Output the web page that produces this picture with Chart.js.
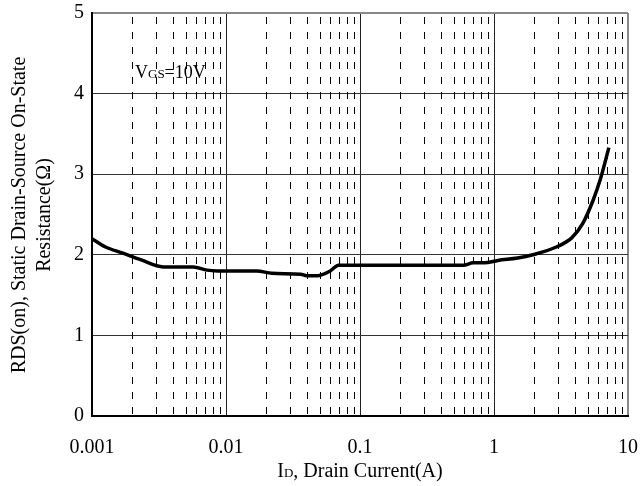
<!DOCTYPE html>
<html>
<head>
<meta charset="utf-8">
<script src="https://cdn.jsdelivr.net/npm/chart.js@4.4.0/dist/chart.umd.min.js"></script>
<style>
  body { margin: 0; background: #fff; }
  canvas { display: block; }
</style>
</head>
<body>
<canvas id="myChart" width="640" height="486"></canvas>
<script>
// drain current (A) and resistance (ohm)
let currentA = [0.001, 0.00125, 0.0017, 0.0023, 0.0034, 0.0057, 0.0072, 0.0086, 0.017, 0.022,
    0.036, 0.040, 0.048, 0.06, 0.069, 0.14, 0.3, 0.59, 0.70, 0.85,
    1.07, 1.5, 1.95, 2.95, 3.8, 4.6, 5.5, 6.2, 7.2];
let rdsOn = [2.20, 2.10, 2.02, 1.94, 1.85, 1.85, 1.81, 1.80, 1.80, 1.77,
    1.76, 1.74, 1.74, 1.80, 1.87, 1.87, 1.87, 1.87, 1.90, 1.90,
    1.93, 1.96, 2.00, 2.10, 2.21, 2.39, 2.68, 2.93, 3.33];

let xMajorTicks = [0.001, 0.01, 0.1, 1, 10];
let xTickLabels = ['0.001', '0.01', '0.1', '1', '10'];
let xMinorTicks = [];
for (let d = 0.001; d < 5; d *= 10) {
    for (let m = 2; m <= 9; m++) xMinorTicks.push(+(m * d).toPrecision(3));
}
let yTicks = [0, 1, 2, 3, 4, 5];

const serif = '"Liberation Serif", "Times New Roman", serif';

// dashed minor lines and text pieces with subscripts
const extras = {
    id: 'extras',
    beforeDatasetsDraw(chart) {
        const c = chart.ctx, a = chart.chartArea, xs = chart.scales.x;
        c.save();
        c.strokeStyle = '#000';
        c.lineWidth = 1;
        c.setLineDash([7, 8]);
        xMinorTicks.forEach(v => {
            let px = Math.round(xs.getPixelForValue(v)) + 0.5;
            c.beginPath();
            c.moveTo(px, a.top + 4);
            c.lineTo(px, a.bottom);
            c.stroke();
        });
        c.restore();
    },
    afterDraw(chart) {
        const c = chart.ctx, a = chart.chartArea;
        c.save();
        c.fillStyle = '#000';
        c.textBaseline = 'alphabetic';

        // V_GS=10V
        let x = 135, y = 78;
        c.font = '18px ' + serif;
        c.fillText('V', x, y); x += c.measureText('V').width;
        c.font = '13px ' + serif;
        c.fillText('GS', x, y); x += c.measureText('GS').width;
        c.font = '18px ' + serif;
        c.fillText('=10V', x, y);

        // x title: I_D, Drain Current(A)
        c.font = '20px ' + serif;
        let wI = c.measureText('I').width;
        let rest = ', Drain Current(A)';
        let wR = c.measureText(rest).width;
        c.font = '13px ' + serif;
        let wD = c.measureText('D').width;
        x = (a.left + a.right) / 2 - (wI + wD + wR) / 2;
        y = 477;
        c.font = '20px ' + serif;
        c.fillText('I', x, y); x += wI;
        c.font = '13px ' + serif;
        c.fillText('D', x, y); x += wD;
        c.font = '20px ' + serif;
        c.fillText(rest, x, y);

        // y title, two rotated lines
        c.translate(0, 215);
        c.rotate(-Math.PI / 2);
        c.textAlign = 'center';
        c.textBaseline = 'middle';
        c.font = '20px ' + serif;
        c.fillText('RDS(on), Static Drain-Source On-State', 0, 20);
        c.fillText('Resistance(\u03A9)', 0, 45);
        c.restore();
    }
};

let ctx = document.querySelector('#myChart').getContext('2d');
let myChart = new Chart(ctx, {
    type: 'line',
    data: {
        datasets: [{
            data: currentA.map((v, i) => ({ x: v, y: rdsOn[i] })),
            borderColor: '#000',
            borderWidth: 3.5,
            pointRadius: 0,
            cubicInterpolationMode: 'monotone',
            fill: false
        }]
    },
    options: {
        responsive: false,
        animation: false,
        layout: { padding: { top: 13, right: 12, left: 0, bottom: 0 } },
        plugins: { legend: { display: false }, tooltip: { enabled: false } },
        scales: {
            x: {
                type: 'logarithmic',
                min: 0.001,
                max: 10,
                afterBuildTicks: scale => {
                    scale.ticks = xMajorTicks.map(v => ({ value: v }));
                },
                afterFit: scale => {
                    scale.height = 70;
                    scale.paddingLeft = 0;
                    scale.paddingRight = 0;
                },
                ticks: {
                    autoSkip: false,
                    maxRotation: 0,
                    padding: 20,
                    color: '#000',
                    font: { family: serif, size: 20 },
                    callback: function (value) {
                        let i = xMajorTicks.indexOf(value);
                        return i >= 0 ? xTickLabels[i] : '';
                    }
                },
                grid: {
                    drawTicks: false,
                    color: c => (c.tick && c.tick.value === 10) ? '#888' : '#222',
                    lineWidth: c => (c.tick && c.tick.value === 10) ? 2 : 1
                },
                border: { color: '#000', width: 2 }
            },
            y: {
                min: 0,
                max: 5,
                afterBuildTicks: scale => {
                    scale.ticks = yTicks.map(v => ({ value: v }));
                },
                afterFit: scale => {
                    scale.width = 92;
                    scale.paddingTop = 0;
                    scale.paddingBottom = 0;
                },
                ticks: {
                    padding: 8,
                    color: '#000',
                    font: { family: serif, size: 20 }
                },
                grid: {
                    drawTicks: false,
                    color: c => (c.tick && c.tick.value === 5) ? '#888' : '#333',
                    lineWidth: c => (c.tick && c.tick.value === 5) ? 2 : 1
                },
                border: { color: '#000', width: 2 }
            }
        }
    },
    plugins: [extras]
});
</script>
</body>
</html>
